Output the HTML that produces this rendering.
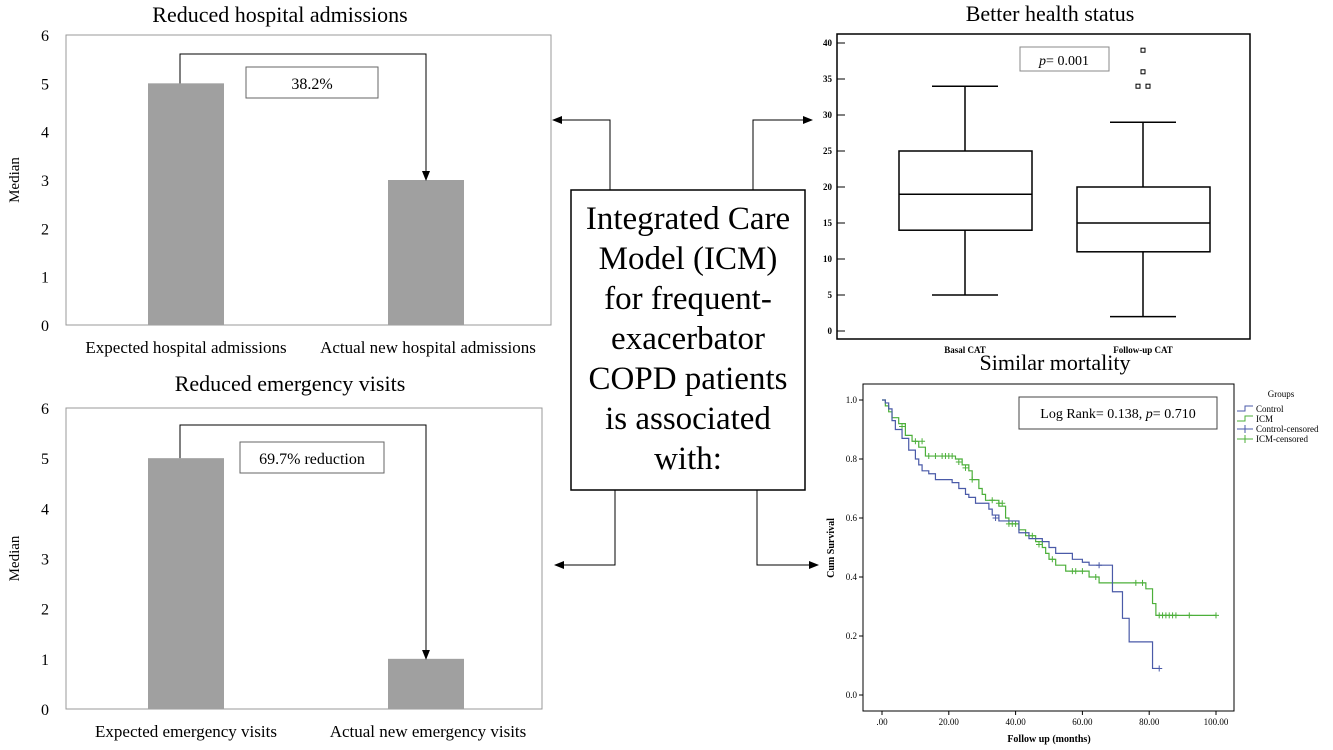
<!DOCTYPE html>
<html><head><meta charset="utf-8"><style>
html,body{margin:0;padding:0;background:#fff}
svg{display:block;font-family:"Liberation Serif",serif}
</style></head><body>
<svg id="s" width="1333" height="750" viewBox="0 0 1333 750" xmlns="http://www.w3.org/2000/svg">
<defs><marker id="ah" markerWidth="10" markerHeight="8" refX="9" refY="4" orient="auto" markerUnits="userSpaceOnUse"><path d="M0,0 L10,4 L0,8 z" fill="#000"/></marker></defs>
<g id="center">
<rect x="571" y="190" width="234" height="300" fill="#fff" stroke="#000" stroke-width="1.5"/>
<text x="688" font-size="33" text-anchor="middle" fill="#000">
<tspan x="688" y="229">Integrated Care</tspan><tspan x="688" y="269">Model (ICM)</tspan><tspan x="688" y="309">for frequent-</tspan><tspan x="688" y="349">exacerbator</tspan><tspan x="688" y="389">COPD patients</tspan><tspan x="688" y="429">is associated</tspan><tspan x="688" y="469">with:</tspan></text>
<polyline points="610,190 610,120 553,120" fill="none" stroke="#000" marker-end="url(#ah)"/>
<polyline points="753,190 753,120 812,120" fill="none" stroke="#000" marker-end="url(#ah)"/>
<polyline points="615,490 615,565 555,565" fill="none" stroke="#000" marker-end="url(#ah)"/>
<polyline points="757,490 757,565 818,565" fill="none" stroke="#000" marker-end="url(#ah)"/>
</g>
</svg>
<script>
const NS='http://www.w3.org/2000/svg';const S=document.getElementById('s');
function mk(t,a,p){const e=document.createElementNS(NS,t);for(const k in a)e.setAttribute(k,a[k]);(p||S).appendChild(e);return e;}
function tx(x,y,s,a,p){const e=mk('text',Object.assign({x:x,y:y,fill:'#000'},a),p);e.textContent=s;return e;}

// ---- Bar chart data ----
const barCats1=['Expected hospital admissions','Actual new hospital admissions'];
const barVals1=[5,3];
const barCats2=['Expected emergency visits','Actual new emergency visits'];
const barVals2=[5,1];
const barTicks=[0,1,2,3,4,5,6];

function barChart(cfg){
  const g=mk('g',{});
  
  
  const y=v=>cfg.bot-(cfg.bot-cfg.top)*v/6;
  mk('rect',{x:cfg.l,y:cfg.top,width:cfg.r-cfg.l,height:cfg.bot-cfg.top,fill:'#fff',stroke:'#999','stroke-width':1},g);
  barTicks.forEach(t=>{const e=tx(45,y(t)+6,String(t),{'font-size':16,'text-anchor':'middle'},g);});
  const yl=tx(0,0,'Median',{'font-size':15,'text-anchor':'middle',transform:`translate(19,${(cfg.top+cfg.bot)/2}) rotate(-90)`},g);
  
  const t=tx(cfg.tx,cfg.ty,cfg.title,{'font-size':22,'text-anchor':'middle'},g);
  
  const cx=[186,426];
  cfg.vals.forEach((v,i)=>{
    const b=mk('rect',{x:cx[i]-38,y:y(v),width:76,height:cfg.bot-y(v),fill:'#a0a0a0'},g);
    
    const l=tx(cfg.lx[i],cfg.bot+28,cfg.cats[i],{'font-size':17,'text-anchor':'middle'},g);
    
  });
  const ar=mk('polyline',{points:`${cx[0]-6},${y(cfg.vals[0])} ${cx[0]-6},${cfg.ay} ${cx[1]},${cfg.ay} ${cx[1]},${y(cfg.vals[1])}`,fill:'none',stroke:'#000','marker-end':'url(#ah)'},g);
  
  mk('rect',{x:cfg.bx,y:cfg.by,width:cfg.bw,height:31,fill:'#fff',stroke:'#666'},g);
  const bt=tx(cfg.bx+cfg.bw/2,cfg.by+22,cfg.label,{'font-size':16,'text-anchor':'middle'},g);
  
}
barChart({name:'hospital-admissions-chart',l:66,r:551,top:35,bot:325,vals:barVals1,cats:barCats1,lx:[186,428],title:'Reduced hospital admissions',tx:280,ty:22,ay:54,bx:246,by:67,bw:132,label:'38.2%'});
barChart({name:'emergency-visits-chart',l:66,r:542,top:408,bot:709,vals:barVals2,cats:barCats2,lx:[186,428],title:'Reduced emergency visits',tx:290,ty:391,ay:425,bx:240,by:442,bw:144,label:'69.7% reduction'});

// ---- Box plot data ----
const boxCats=['Basal CAT','Follow-up CAT'];
const boxMin=[5,2],boxQ1=[14,11],boxMed=[19,15],boxQ3=[25,20],boxMax=[34,29];
const outliers=[[39,0],[36,0],[34,-1],[34,1]];
const boxTicks=[0,5,10,15,20,25,30,35,40];
(function(){
  const g=mk('g',{});
  const y=v=>331-7.2*v;const cx=[965,1143];
  mk('rect',{x:837,y:34,width:413,height:305,fill:'#fff',stroke:'#000','stroke-width':1.5},g);
  boxTicks.forEach(t=>{mk('line',{x1:837,x2:845,y1:y(t),y2:y(t),stroke:'#000'},g);const e=tx(832,y(t)+3,String(t),{'font-size':9,'font-weight':'bold','text-anchor':'end'},g);});
  boxCats.forEach((c,i)=>{
    const x=cx[i];
    mk('line',{x1:x,x2:x,y1:y(boxMax[i]),y2:y(boxQ3[i]),stroke:'#000','stroke-width':1.5},g);
    mk('line',{x1:x,x2:x,y1:y(boxQ1[i]),y2:y(boxMin[i]),stroke:'#000','stroke-width':1.5},g);
    mk('line',{x1:x-33,x2:x+33,y1:y(boxMax[i]),y2:y(boxMax[i]),stroke:'#000','stroke-width':1.5},g);
    mk('line',{x1:x-33,x2:x+33,y1:y(boxMin[i]),y2:y(boxMin[i]),stroke:'#000','stroke-width':1.5},g);
    const b=mk('rect',{x:x-66,y:y(boxQ3[i]),width:133,height:y(boxQ1[i])-y(boxQ3[i]),fill:'#fff',stroke:'#000','stroke-width':1.5},g);
    
    mk('line',{x1:x-66,x2:x+67,y1:y(boxMed[i]),y2:y(boxMed[i]),stroke:'#000','stroke-width':1.5},g);
    const l=tx(x,353,c,{'font-size':9,'font-weight':'bold','text-anchor':'middle'},g);
  });
  outliers.forEach(o=>{const r=mk('rect',{x:cx[1]-2+o[1]*5,y:y(o[0])-2,width:4,height:4,fill:'#fff',stroke:'#000'},g);});
  mk('rect',{x:1020,y:47,width:89,height:24,fill:'#fff',stroke:'#888'},g);
  const p=tx(1064,65,'',{'font-size':14,'text-anchor':'middle'},g);p.innerHTML='<tspan font-style="italic">p</tspan>= 0.001';
  
  const t=tx(1050,21,'Better health status',{'font-size':22,'text-anchor':'middle'},g);
})();

// ---- KM data ----
const ctrlT=[0,1,2,3,4,6,8,10,11,12,14,16,21,23,25,26,28,32,33,35,41,44,48,50,52,57,60,62,69,72,74,81];
const ctrlS=[1.0,0.99,0.97,0.93,0.90,0.87,0.83,0.80,0.78,0.76,0.75,0.73,0.72,0.70,0.68,0.67,0.65,0.63,0.61,0.59,0.55,0.53,0.52,0.50,0.48,0.46,0.45,0.44,0.35,0.26,0.18,0.09];
const ctrlEnd=83;
const ctrlCensT=[34,65,83],ctrlCensS=[0.60,0.44,0.09];
const icmT=[0,1,2,3,5,7,9,11,13,22,24,26,27,29,30,31,35,37,38,41,43,46,48,49,50,52,55,62,65,79,81,82];
const icmS=[1.0,0.98,0.96,0.94,0.92,0.88,0.86,0.84,0.81,0.80,0.78,0.76,0.73,0.70,0.68,0.66,0.64,0.60,0.58,0.56,0.54,0.52,0.50,0.48,0.46,0.44,0.42,0.40,0.38,0.36,0.31,0.27];
const icmEnd=100;
const icmCensT=[6,10,12,14,16,18,19,20,21,23,25,27,33,35,36,38,39,40,45,47,51,57,58,60,64,76,78,83,84,85,86,87,88,92,100];
const icmCensS=[0.91,0.86,0.86,0.81,0.81,0.81,0.81,0.81,0.81,0.79,0.77,0.73,0.66,0.65,0.65,0.58,0.58,0.58,0.54,0.51,0.46,0.42,0.42,0.42,0.40,0.38,0.38,0.27,0.27,0.27,0.27,0.27,0.27,0.27,0.27];
const kmXTicks=[0,20,40,60,80,100],kmXLabels=['.00','20.00','40.00','60.00','80.00','100.00'];
const kmYTicks=[0,0.2,0.4,0.6,0.8,1.0];
(function(){
  const g=mk('g',{});
  const X=t=>882+3.34*t,Y=s=>695-295*s;
  mk('rect',{x:863,y:384,width:371,height:327,fill:'#fff',stroke:'#000','stroke-width':1},g);
  kmYTicks.forEach(t=>{mk('line',{x1:859,x2:863,y1:Y(t),y2:Y(t),stroke:'#000'},g);const e=tx(857,Y(t)+3,t.toFixed(1),{'font-size':9,'text-anchor':'end'},g);});
  kmXTicks.forEach((t,i)=>{mk('line',{x1:X(t),x2:X(t),y1:711,y2:715,stroke:'#000'},g);const e=tx(X(t),725,kmXLabels[i],{'font-size':9,'text-anchor':'middle'},g);});
  const xt=tx(1049,742,'Follow up (months)',{'font-size':10,'font-weight':'bold','text-anchor':'middle'},g);
  const yt=tx(0,0,'Cum Survival',{'font-size':10,'font-weight':'bold','text-anchor':'middle',transform:'translate(834,548) rotate(-90)'},g);
  function step(T,Sv,end,col,name){let d=`M${X(T[0])},${Y(Sv[0])}`;for(let i=1;i<T.length;i++){d+=` H${X(T[i])} V${Y(Sv[i])}`;}d+=` H${X(end)}`;const p=mk('path',{d:d,fill:'none',stroke:col,'stroke-width':1.2},g);}
  function cens(T,Sv,col){T.forEach((t,i)=>{mk('path',{d:`M${X(t)-3},${Y(Sv[i])} h6 M${X(t)},${Y(Sv[i])-3} v6`,stroke:col,'stroke-width':1},g);});}
  step(icmT,icmS,icmEnd,'#4caf3a','icm-line');cens(icmCensT,icmCensS,'#4caf3a');
  step(ctrlT,ctrlS,ctrlEnd,'#4a5aa8','control-line');cens(ctrlCensT,ctrlCensS,'#4a5aa8');
  mk('rect',{x:1019,y:397,width:198,height:32,fill:'#fff',stroke:'#444'},g);
  const lr=tx(1118,418,'',{'font-size':14,'text-anchor':'middle'},g);lr.innerHTML='Log Rank= 0.138, <tspan font-style="italic">p</tspan>= 0.710';
  const lg=mk('g',{},g);
  tx(1281,397,'Groups',{'font-size':9,'text-anchor':'middle'},lg);
  const items=[['Control','#4a5aa8',0],['ICM','#4caf3a',0],['Control-censored','#4a5aa8',1],['ICM-censored','#4caf3a',1]];
  items.forEach((it,i)=>{const yy=409+i*10;
    if(it[2]) mk('path',{d:`M1237,${yy} h16 M1245,${yy-4} v8`,stroke:it[1]},lg);
    else mk('path',{d:`M1237,${yy+2} h8 V${yy-3} h8`,fill:'none',stroke:it[1]},lg);
    const e=tx(1256,yy+3,it[0],{'font-size':9},lg);});
  const t=tx(1055,370,'Similar mortality',{'font-size':22,'text-anchor':'middle'},g);
})();
S.appendChild(document.getElementById('center'));
</script>
</body></html>
